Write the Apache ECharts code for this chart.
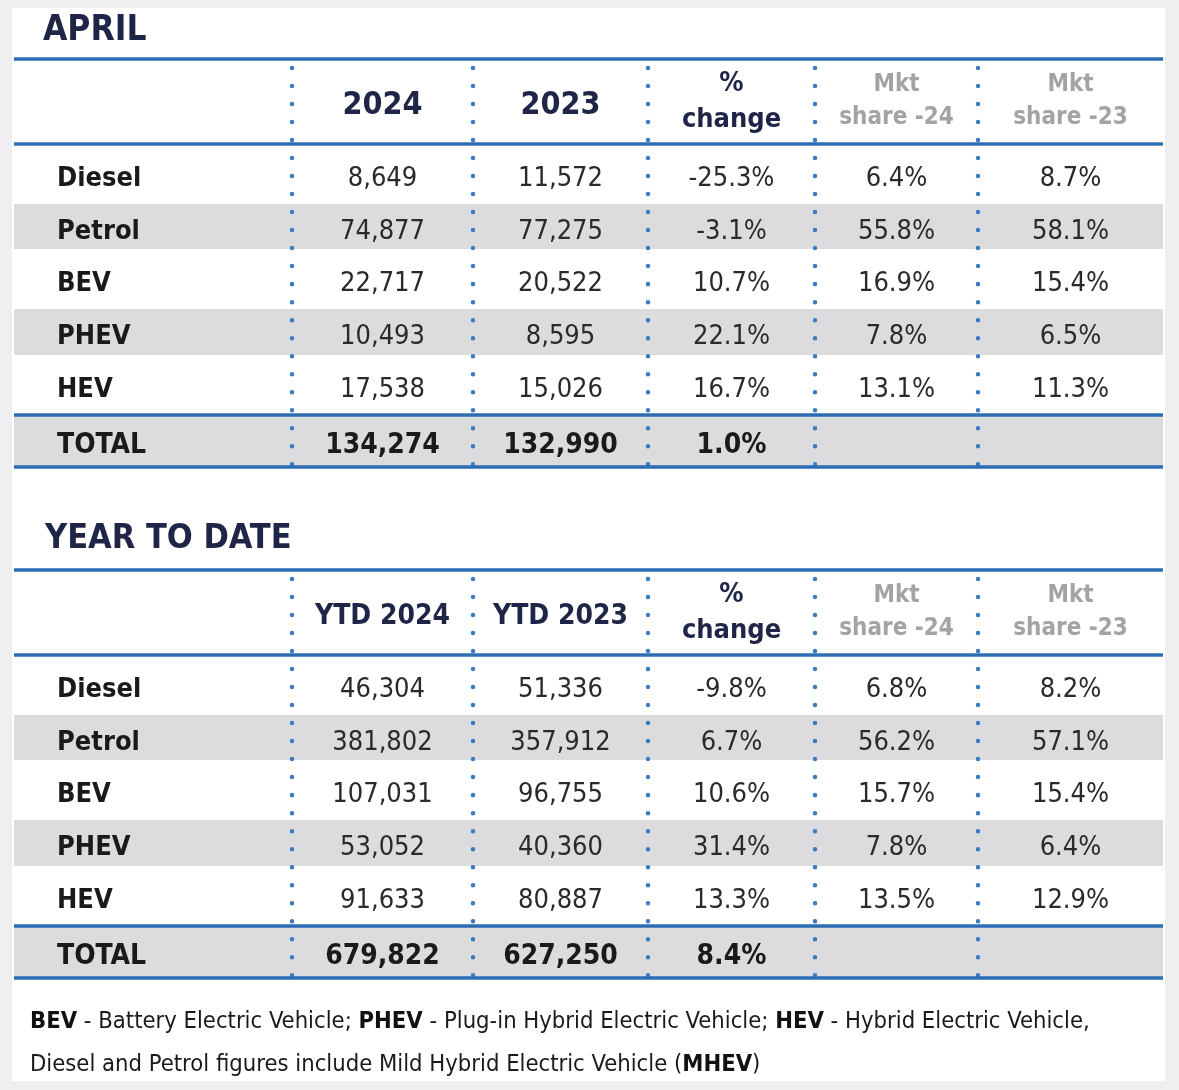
<!DOCTYPE html>
<html>
<head>
<meta charset="utf-8">
<script src="https://cdn.jsdelivr.net/npm/echarts@6/dist/echarts.min.js"></script>
<style>
  html, body {margin: 0; padding: 0; background: #efeff1;}
  #main {width: 1179px; height: 1090px;}
</style>
</head>
<body>
<div id="main"></div>
<script>
// data
var fuelTypes = ['Diesel', 'Petrol', 'BEV', 'PHEV', 'HEV', 'TOTAL'];

var aprilHeaders = ['2024', '2023', '%\nchange', 'Mkt\nshare -24', 'Mkt\nshare -23'];
var april2024 = [8649, 74877, 22717, 10493, 17538, 134274];
var april2023 = [11572, 77275, 20522, 8595, 15026, 132990];
var aprilChange = [-25.3, -3.1, 10.7, 22.1, 16.7, 1.0];
var aprilShare24 = [6.4, 55.8, 16.9, 7.8, 13.1, null];
var aprilShare23 = [8.7, 58.1, 15.4, 6.5, 11.3, null];

var ytdHeaders = ['YTD 2024', 'YTD 2023', '%\nchange', 'Mkt\nshare -24', 'Mkt\nshare -23'];
var ytd2024 = [46304, 381802, 107031, 53052, 91633, 679822];
var ytd2023 = [51336, 357912, 96755, 40360, 80887, 627250];
var ytdChange = [-9.8, 6.7, 10.6, 31.4, 13.3, 8.4];
var ytdShare24 = [6.8, 56.2, 15.7, 7.8, 13.5, null];
var ytdShare23 = [8.2, 57.1, 15.4, 6.4, 12.9, null];

// layout (table units = px inside each grid)
var colEdges = [0, 278, 459, 634, 801, 964, 1149];
var rowEdges = [0, 85, 145, 190, 250, 296, 356, 408];
var greyRows = [2, 4, 6];
var blueRules = [0, 1, 6, 7];

var FONT = '"DejaVu Sans Condensed", "DejaVu Sans", sans-serif';
var NAVY = '#1f2547';
var BLUE = '#2c6db4';

function buildCells(headers, cols) {
    var cells = [];
    headers.forEach(function (h, i) {
        cells.push({c: i + 1, r: 0, text: h, kind: i >= 3 ? 'share' : (i === 2 ? 'change' : 'head')});
    });
    fuelTypes.forEach(function (f, j) {
        var total = f === 'TOTAL';
        cells.push({c: 0, r: j + 1, text: f, kind: total ? 'totalLabel' : 'label'});
        cols.forEach(function (arr, i) {
            var v = arr[j];
            if (v == null) return;
            var t = i < 2 ? v.toLocaleString('en-US') : v.toFixed(1) + '%';
            cells.push({c: i + 1, r: j + 1, text: t, kind: total ? 'total' : 'value'});
        });
    });
    return cells;
}

function tableSeries(idx, headers, cols, headSize) {
    var cells = buildCells(headers, cols);
    var styles = {
        head: {fontSize: headSize, fontWeight: 'bold', fill: NAVY, dy: 4},
        change: {fontSize: 27, fontWeight: 'bold', fill: NAVY, lineHeight: 36, dy: 0},
        share: {fontSize: 24, fontWeight: 'bold', fill: '#a3a3a6', lineHeight: 33, dy: 0},
        label: {fontSize: 27, fontWeight: 'bold', fill: '#1a1a1a', dy: 5},
        totalLabel: {fontSize: 28, fontWeight: 'bold', fill: '#1a1a1a', dy: 5},
        value: {fontSize: 27, fontWeight: 'normal', fill: '#2a2a2a', dy: 5},
        total: {fontSize: 28, fontWeight: 'bold', fill: '#1a1a1a', dy: 5}
    };
    return [
        {   // grey bands
            type: 'custom', xAxisIndex: idx, yAxisIndex: idx, silent: true, z: 1,
            data: greyRows.map(function (r) { return [0, r]; }),
            renderItem: function (params, api) {
                var r = greyRows[params.dataIndex];
                var p0 = api.coord([colEdges[0], rowEdges[r]]);
                var p1 = api.coord([colEdges[colEdges.length - 1], rowEdges[r + 1]]);
                return {type: 'rect', shape: {x: p0[0], y: p0[1], width: p1[0] - p0[0], height: p1[1] - p0[1]},
                    style: {fill: '#dcdcde'}};
            }
        },
        {   // dotted column dividers
            type: 'custom', xAxisIndex: idx, yAxisIndex: idx, silent: true, z: 2,
            data: colEdges.slice(1, -1).map(function (x, i) { return [i + 1, 0]; }),
            renderItem: function (params, api) {
                var x = colEdges[params.dataIndex + 1];
                var p0 = api.coord([x, rowEdges[0] + 9]);
                var p1 = api.coord([x, rowEdges[rowEdges.length - 1]]);
                return {type: 'line', shape: {x1: p0[0], y1: p0[1], x2: p1[0], y2: p1[1]},
                    style: {stroke: '#3b7bc1', lineWidth: 4.5, lineCap: 'round', lineDash: [0.01, 18]}};
            }
        },
        {   // blue rules
            type: 'custom', xAxisIndex: idx, yAxisIndex: idx, silent: true, z: 3,
            data: blueRules.map(function (r) { return [0, r]; }),
            renderItem: function (params, api) {
                var r = blueRules[params.dataIndex];
                var p0 = api.coord([colEdges[0], rowEdges[r]]);
                var p1 = api.coord([colEdges[colEdges.length - 1], rowEdges[r]]);
                return {type: 'line', shape: {x1: p0[0], y1: p0[1], x2: p1[0], y2: p1[1]},
                    style: {stroke: BLUE, lineWidth: 3.5}};
            }
        },
        {   // cell texts
            type: 'custom', xAxisIndex: idx, yAxisIndex: idx, silent: true, z: 4,
            data: cells.map(function (d) { return [d.c, d.r]; }),
            renderItem: function (params, api) {
                var d = cells[params.dataIndex];
                var s = styles[d.kind];
                var x = d.c === 0 ? colEdges[0] + 43 : (colEdges[d.c] + colEdges[d.c + 1]) / 2;
                var y = (rowEdges[d.r] + rowEdges[d.r + 1]) / 2 + s.dy;
                var p = api.coord([x, y]);
                return {type: 'text', x: p[0], y: p[1],
                    style: {text: d.text, fontFamily: FONT, fontSize: s.fontSize, fontWeight: s.fontWeight,
                        fill: s.fill, lineHeight: s.lineHeight, align: d.c === 0 ? 'left' : 'center',
                        verticalAlign: 'middle'}};
            }
        }
    ];
}

var chart = echarts.init(document.getElementById('main'));

function hiddenAxis(idx, max, inverse) {
    return {type: 'value', gridIndex: idx, min: 0, max: max, inverse: inverse, show: false};
}

var option = {
    backgroundColor: '#efeff1',
    animation: false,
    title: [
        {text: 'APRIL', left: 38, top: 8,
            textStyle: {fontFamily: FONT, fontSize: 35, fontWeight: 'bold', color: NAVY}},
        {text: 'YEAR TO DATE', left: 40, top: 517,
            textStyle: {fontFamily: FONT, fontSize: 34, fontWeight: 'bold', color: NAVY}}
    ],
    grid: [
        {left: 14, top: 59, width: 1149, height: 408},
        {left: 14, top: 570, width: 1149, height: 408}
    ],
    xAxis: [hiddenAxis(0, 1149, false), hiddenAxis(1, 1149, false)],
    yAxis: [hiddenAxis(0, 408, true), hiddenAxis(1, 408, true)],
    graphic: [
        {type: 'rect', z: -10, shape: {x: 12, y: 8, width: 1153, height: 1073}, style: {fill: '#ffffff'}},
        {type: 'text', left: 30, top: 1000, z: 10,
            style: {
                text: '{b|BEV} - Battery Electric Vehicle; {b|PHEV} - Plug-in Hybrid Electric Vehicle; {b|HEV} - Hybrid Electric Vehicle,\n' +
                      'Diesel and Petrol figures include Mild Hybrid Electric Vehicle ({b|MHEV})',
                fontFamily: FONT,
                fontSize: 23.6, lineHeight: 43, fill: '#1a1a1a',
                rich: {b: {fontFamily: FONT, fontSize: 23.6, fontWeight: 'bold', fill: '#111'}}
            }}
    ],
    series: [].concat(
        tableSeries(0, aprilHeaders, [april2024, april2023, aprilChange, aprilShare24, aprilShare23], 32),
        tableSeries(1, ytdHeaders, [ytd2024, ytd2023, ytdChange, ytdShare24, ytdShare23], 28)
    )
};

chart.setOption(option);
</script>
</body>
</html>
